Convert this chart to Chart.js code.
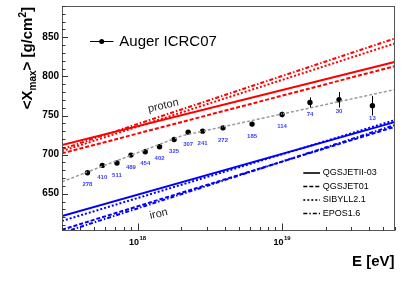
<!DOCTYPE html>
<html>
<head>
<meta charset="utf-8">
<script src="https://cdn.jsdelivr.net/npm/chart.js@4.4.1/dist/chart.umd.min.js"></script>
<style>
  html, body { margin: 0; padding: 0; background: #fff; }
  #wrap { width: 416px; height: 282px; }
</style>
</head>
<body>
<div id="wrap"><canvas id="chart" width="416" height="282"></canvas></div>
<script>
// Auger ICRC07 measurement
const energies = [4.5e17, 5.7e17, 7.2e17, 9.0e17, 1.13e18, 1.42e18, 1.79e18, 2.24e18, 2.82e18, 3.9e18, 6.2e18, 1.0e19, 1.56e19, 2.48e19, 4.22e19];
const xmaxValues = [676.8, 686.2, 689.2, 699.4, 703.6, 710.0, 719.4, 728.7, 730.0, 734.2, 739.0, 751.3, 766.7, 770.2, 762.6];
const xmaxErrors = [2, 2, 2, 2, 2, 2, 2, 2, 2.5, 2.5, 3, 3.5, 6.5, 10, 12.5];
const eventCounts = ['278', '410', '511', '489', '454', '402', '325', '307', '241', '272', '185', '114', '74', '30', '13'];

// broken-line fit through the data
const fitEnergies = [3e17, 2.03e18, 6e19];
const fitXmax = [665.3, 724.2, 783.1];

// model predictions (values at the two ends of the energy range)
const lineEnergies = [3e17, 6e19];
const protonQGSJETII = [712.2, 818.5];
const protonQGSJET01 = [701.6, 813.0];
const protonSIBYLL = [704.5, 842.0];
const protonEPOS = [707.0, 848.3];
const ironQGSJETII = [621.5, 741.5];
const ironQGSJET01 = [604.0, 735.5];
const ironSIBYLL = [615.2, 744.0];
const ironEPOS = [600.0, 737.7];

const modelNames = ['QGSJETII-03', 'QGSJET01', 'SIBYLL2.1', 'EPOS1.6'];
const modelDashes = [[], [4, 2], [2, 2], [4, 2, 1.5, 2]];

const yTicks = [650, 700, 750, 800, 850];
const yTickLabels = ['650', '700', '750', '800', '850'];
const xTicks = [1e18, 1e19];
const xTickLabels = [['10', '18'], ['10', '19']];

const FONT = '"Liberation Sans", Arial, Helvetica, sans-serif';

function pts(xs, ys) {
  return xs.map((x, i) => ({ x: x, y: ys[i] }));
}

function modelLine(ys, color, dash) {
  return {
    data: pts(lineEnergies, ys),
    showLine: true,
    borderColor: color,
    borderWidth: 2,
    borderDash: dash,
    pointRadius: 0,
    fill: false
  };
}

const datasets = [
  modelLine(protonQGSJETII, '#ff0000', modelDashes[0]),
  modelLine(protonQGSJET01, '#ff0000', modelDashes[1]),
  modelLine(protonSIBYLL, '#ff0000', modelDashes[2]),
  modelLine(protonEPOS, '#ff0000', modelDashes[3]),
  modelLine(ironQGSJETII, '#0000ff', modelDashes[0]),
  modelLine(ironQGSJET01, '#0000ff', modelDashes[1]),
  modelLine(ironSIBYLL, '#0000ff', modelDashes[2]),
  modelLine(ironEPOS, '#0000ff', modelDashes[3]),
  {
    data: pts(fitEnergies, fitXmax),
    showLine: true,
    borderColor: '#9a9a9a',
    borderWidth: 1.5,
    borderDash: [3, 2],
    pointRadius: 0
  },
  {
    data: pts(energies, xmaxValues),
    showLine: false,
    pointRadius: 2.7,
    pointBackgroundColor: '#000',
    pointBorderWidth: 0
  }
];

// frame, ticks, labels, error bars, legends
const decorations = {
  id: 'decorations',
  afterDatasetsDraw(chart) {
    const ctx = chart.ctx;
    const xs = chart.scales.x, ys = chart.scales.y;
    const area = chart.chartArea;

    // error bars
    ctx.save();
    ctx.strokeStyle = '#000';
    ctx.lineWidth = 1;
    energies.forEach((e, i) => {
      const px = Math.round(xs.getPixelForValue(e)) + 0.5;
      ctx.beginPath();
      ctx.moveTo(px, ys.getPixelForValue(xmaxValues[i] - xmaxErrors[i]));
      ctx.lineTo(px, ys.getPixelForValue(xmaxValues[i] + xmaxErrors[i]));
      ctx.stroke();
    });

    // event counts
    ctx.fillStyle = '#3c3cff';
    ctx.font = 'bold 6px ' + FONT;
    ctx.textAlign = 'center';
    ctx.textBaseline = 'middle';
    energies.forEach((e, i) => {
      const px = xs.getPixelForValue(e);
      const py = ys.getPixelForValue(xmaxValues[i]);
      const off = xmaxErrors[i] > 10 ? 13 : 12;
      ctx.fillText(eventCounts[i], px, py + off);
    });
    ctx.restore();
  },
  afterDraw(chart) {
    const ctx = chart.ctx;
    const xs = chart.scales.x, ys = chart.scales.y;
    const a = chart.chartArea;
    ctx.save();

    // frame
    ctx.strokeStyle = '#555';
    ctx.lineWidth = 1;
    ctx.strokeRect(Math.round(a.left) + 0.5, Math.round(a.top) + 0.5,
      Math.round(a.right - a.left) - 1, Math.round(a.bottom - a.top) - 1);

    // y ticks
    ctx.strokeStyle = '#333';
    ctx.beginPath();
    for (let v = 610; v <= 890; v += 10) {
      const py = Math.round(ys.getPixelForValue(v)) + 0.5;
      const len = v % 50 === 0 ? 6 : 3.5;
      ctx.moveTo(a.left, py);
      ctx.lineTo(a.left + len, py);
    }
    // x ticks
    for (let dec = 17; dec <= 19; dec++) {
      for (let m = 1; m <= 9; m++) {
        const v = m * Math.pow(10, dec);
        if (v < xs.min || v > xs.max) continue;
        const px = Math.round(xs.getPixelForValue(v)) + 0.5;
        const len = m === 1 ? 7 : 3.5;
        ctx.moveTo(px, a.bottom);
        ctx.lineTo(px, a.bottom - len);
      }
    }
    ctx.stroke();

    // y tick labels
    ctx.fillStyle = '#000';
    ctx.font = 'bold 10px ' + FONT;
    ctx.textAlign = 'right';
    ctx.textBaseline = 'middle';
    yTicks.forEach((v, i) => ctx.fillText(yTickLabels[i], 59, ys.getPixelForValue(v)));

    // x tick labels with exponent
    ctx.textAlign = 'left';
    ctx.textBaseline = 'alphabetic';
    xTicks.forEach((v, i) => {
      const px = xs.getPixelForValue(v);
      ctx.font = 'bold 9px ' + FONT;
      const wb = ctx.measureText(xTickLabels[i][0]).width;
      ctx.font = 'bold 6px ' + FONT;
      const we = ctx.measureText(xTickLabels[i][1]).width;
      const x0 = px - (wb + we + 0.5) / 2;
      ctx.font = 'bold 9px ' + FONT;
      ctx.fillText(xTickLabels[i][0], x0, 245);
      ctx.font = 'bold 6px ' + FONT;
      ctx.fillText(xTickLabels[i][1], x0 + wb + 0.5, 240);
    });

    // x axis title
    ctx.font = 'bold 15px ' + FONT;
    ctx.textAlign = 'right';
    ctx.fillText('E [eV]', 394.5, 266);

    // y axis title, rotated, ending at the top
    const parts = [
      ['<X', 15, 0], ['max', 10, 4], ['> [g/cm', 15, 0], ['2', 10, -6], [']', 15, 0]
    ];
    let total = 0;
    parts.forEach(p => { ctx.font = 'bold ' + p[1] + 'px ' + FONT; p.push(ctx.measureText(p[0]).width); total += p[3]; });
    ctx.save();
    ctx.translate(32, 7);
    ctx.rotate(-Math.PI / 2);
    ctx.textAlign = 'left';
    let cx = -total;
    parts.forEach(p => {
      ctx.font = 'bold ' + p[1] + 'px ' + FONT;
      ctx.fillText(p[0], cx, p[2]);
      cx += p[3];
    });
    ctx.restore();

    // proton / iron annotations
    ctx.fillStyle = '#222';
    ctx.font = '11px ' + FONT;
    ctx.textAlign = 'center';
    ctx.textBaseline = 'middle';
    [['proton', 163.3, 105.8], ['iron', 158.7, 214]].forEach(t => {
      ctx.save();
      ctx.translate(t[1], t[2]);
      ctx.rotate(-13 * Math.PI / 180);
      ctx.fillText(t[0], 0, 0);
      ctx.restore();
    });

    // data legend
    ctx.strokeStyle = '#000';
    ctx.lineWidth = 1;
    ctx.beginPath();
    ctx.moveTo(90, 41.5);
    ctx.lineTo(113.5, 41.5);
    ctx.stroke();
    ctx.fillStyle = '#000';
    ctx.beginPath();
    ctx.arc(101.7, 41.5, 2.5, 0, Math.PI * 2);
    ctx.fill();
    ctx.font = '15px ' + FONT;
    ctx.textAlign = 'left';
    ctx.fillText('Auger ICRC07', 119.3, 41.5);

    // model legend
    const ly = [173, 186.5, 200, 213.5];
    ctx.font = '9px ' + FONT;
    modelNames.forEach((n, i) => {
      ctx.strokeStyle = '#000';
      ctx.lineWidth = 1.6;
      ctx.setLineDash(modelDashes[i]);
      ctx.beginPath();
      ctx.moveTo(303.3, ly[i]);
      ctx.lineTo(320, ly[i]);
      ctx.stroke();
      ctx.setLineDash([]);
      ctx.fillText(n, 322.7, ly[i]);
    });

    ctx.restore();
  }
};

new Chart(document.getElementById('chart'), {
  type: 'scatter',
  data: { datasets: datasets },
  options: {
    responsive: false,
    animation: false,
    devicePixelRatio: 1,
    layout: { padding: { top: 6, right: 21.5, left: 0, bottom: 0 } },
    plugins: { legend: { display: false }, tooltip: { enabled: false } },
    scales: {
      x: {
        type: 'logarithmic',
        min: 3e17,
        max: 6e19,
        ticks: { display: false },
        grid: { display: false },
        border: { display: false },
        afterFit(s) { s.height = 51.5; }
      },
      y: {
        type: 'linear',
        min: 603,
        max: 890,
        ticks: { display: false },
        grid: { display: false },
        border: { display: false },
        afterFit(s) { s.width = 62; }
      }
    }
  },
  plugins: [decorations]
});
</script>
</body>
</html>
